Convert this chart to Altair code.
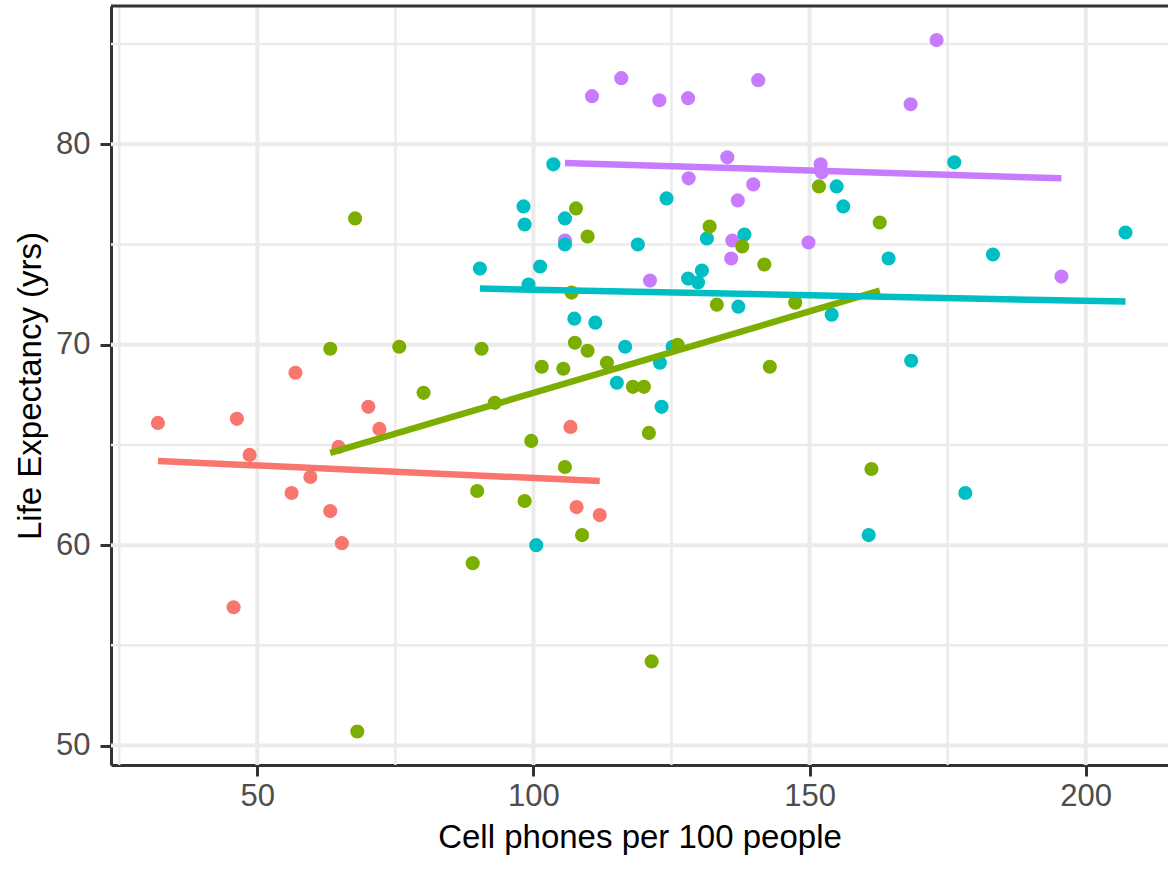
import altair as alt
import pandas as pd

FONT = "Liberation Sans"

groups = ["Africa", "Americas", "Asia", "Europe"]
colors = ["#F8766D", "#7CAE00", "#00BFC4", "#C77CFF"]

# Points (cell phones per 100 people, life expectancy)
europe_x = [105.7, 110.6, 115.9, 122.8, 128.0, 140.7, 173.0, 168.3, 135.1, 152.0, 152.2,
            128.1, 139.8, 137.0, 136.0, 149.8, 135.8, 121.1, 195.6]
europe_y = [75.2, 82.4, 83.3, 82.2, 82.3, 83.2, 85.2, 82.0, 79.35, 79.0, 78.6,
            78.3, 78.0, 77.2, 75.2, 75.1, 74.3, 73.2, 73.4]

asia_x = [103.6, 98.2, 98.4, 105.7, 105.7, 118.9, 90.3, 101.2, 99.1, 107.4, 111.2, 116.6,
          115.1, 123.2, 100.5, 178.2, 160.7, 176.2, 154.9, 124.1, 156.1, 131.4, 138.2,
          207.2, 183.2, 164.3, 128.0, 130.5, 129.8, 137.1, 154.0, 125.2, 122.9, 168.4]
asia_y = [79.0, 76.9, 76.0, 76.3, 75.0, 75.0, 73.8, 73.9, 73.0, 71.3, 71.1, 69.9,
          68.1, 66.9, 60.0, 62.6, 60.5, 79.1, 77.9, 77.3, 76.9, 75.3, 75.5,
          75.6, 74.5, 74.3, 73.3, 73.7, 73.1, 71.9, 71.5, 69.9, 69.1, 69.2]

americas_x = [67.7, 63.2, 75.7, 90.6, 80.1, 93.0, 107.7, 109.8, 106.9, 107.5, 109.8, 113.3,
              101.5, 105.4, 118.0, 120.0, 99.6, 105.7, 89.8, 98.4, 108.8, 89.0, 68.1,
              120.9, 121.4, 161.2, 151.7, 162.7, 131.9, 137.8, 141.8, 133.2, 147.4,
              126.1, 142.8]
americas_y = [76.3, 69.8, 69.9, 69.8, 67.6, 67.1, 76.8, 75.4, 72.6, 70.1, 69.7, 69.1,
              68.9, 68.8, 67.9, 67.9, 65.2, 63.9, 62.7, 62.2, 60.5, 59.1, 50.7,
              65.6, 54.2, 63.8, 77.9, 76.1, 75.9, 74.9, 74.0, 72.0, 72.1,
              70.0, 68.9]

africa_x = [32.0, 46.3, 48.6, 64.7, 59.6, 56.2, 63.2, 65.3, 45.7, 56.9, 70.1, 72.1,
            106.7, 107.8, 112.0]
africa_y = [66.1, 66.3, 64.5, 64.9, 63.4, 62.6, 61.7, 60.1, 56.9, 68.6, 66.9, 65.8,
            65.9, 61.9, 61.5]

# Linear fits (end points)
fit_group = ["Africa", "Africa", "Americas", "Americas", "Asia", "Asia", "Europe", "Europe"]
fit_x = [32.0, 112.0, 63.2, 162.7, 90.3, 207.2, 105.7, 195.6]
fit_y = [64.2, 63.2, 64.6, 72.7, 72.8, 72.15, 79.07, 78.3]

x_ticks = [50, 100, 150, 200]
y_ticks = [50, 60, 70, 80]
x_minor = [25, 75, 125, 175]
y_minor = [55, 65, 75, 85]

X_DOMAIN = [23.5, 214.9]
Y_DOMAIN = [49.03, 86.9]
X_TITLE = "Cell phones per 100 people"
Y_TITLE = "Life Expectancy (yrs)"

rows = []
for g, xs, ys in [("Europe", europe_x, europe_y), ("Asia", asia_x, asia_y),
                  ("Americas", americas_x, americas_y), ("Africa", africa_x, africa_y)]:
    for a, b in zip(xs, ys):
        rows.append({"group": g, "phones": a, "life": b})
points_df = pd.DataFrame(rows)
points_df["order"] = range(len(points_df))
fit_df = pd.DataFrame({"group": fit_group, "phones": fit_x, "life": fit_y})

xscale = alt.Scale(domain=X_DOMAIN, nice=False, zero=False)
yscale = alt.Scale(domain=Y_DOMAIN, nice=False, zero=False)
cscale = alt.Scale(domain=groups, range=colors)

axis_common = dict(grid=False, tickSize=11, tickWidth=3, tickColor="#333333",
                   domainColor="#333333", domainWidth=3, labelFontSize=31,
                   labelColor="#4D4D4D", labelFont=FONT, titleFont=FONT,
                   titleFontSize=33, titleColor="#000000", titleFontWeight="normal",
                   labelFlush=False)

x_axis = alt.Axis(values=x_ticks, labelPadding=5, titlePadding=10, **axis_common)
y_axis = alt.Axis(values=y_ticks, labelPadding=10, titlePadding=8, **axis_common)


def X(field):
    return alt.X(field, scale=xscale, axis=x_axis, title=X_TITLE)


def Y(field):
    return alt.Y(field, scale=yscale, axis=y_axis, title=Y_TITLE)


grid_color = "#EBEBEB"

xminor_grid = alt.Chart(pd.DataFrame({"v": x_minor})).mark_rule(
    color=grid_color, strokeWidth=2.5).encode(x=X("v:Q"))
yminor_grid = alt.Chart(pd.DataFrame({"v": y_minor})).mark_rule(
    color=grid_color, strokeWidth=2.5).encode(y=Y("v:Q"))
xmajor_grid = alt.Chart(pd.DataFrame({"v": x_ticks})).mark_rule(
    color=grid_color, strokeWidth=4).encode(x=X("v:Q"))
ymajor_grid = alt.Chart(pd.DataFrame({"v": y_ticks})).mark_rule(
    color=grid_color, strokeWidth=4).encode(y=Y("v:Q"))

points = alt.Chart(points_df).mark_circle(size=200, opacity=1).encode(
    x=X("phones:Q"),
    y=Y("life:Q"),
    color=alt.Color("group:N", scale=cscale, legend=None),
    order=alt.Order("order:Q"),
)

fits = alt.Chart(fit_df).mark_line(strokeWidth=6.5).encode(
    x=X("phones:Q"),
    y=Y("life:Q"),
    color=alt.Color("group:N", scale=cscale, legend=None),
    detail="group:N",
)

top_border = alt.Chart(pd.DataFrame({"a": [X_DOMAIN[0]], "b": [X_DOMAIN[1]], "t": [Y_DOMAIN[1]]})).mark_rule(
    color="#333333", strokeWidth=3).encode(
    x=X("a:Q"), x2="b:Q", y=Y("t:Q"))

chart = alt.layer(
    xminor_grid, yminor_grid, xmajor_grid, ymajor_grid, points, fits, top_border
).properties(
    width=1057, height=759,
    autosize=alt.AutoSizeParams(type="none"),
    padding={"left": 111, "top": 6, "right": 0, "bottom": 118},
    background="white",
).configure_view(stroke=None)

chart.save("out.html", embed_options={"renderer": "svg", "actions": False})
